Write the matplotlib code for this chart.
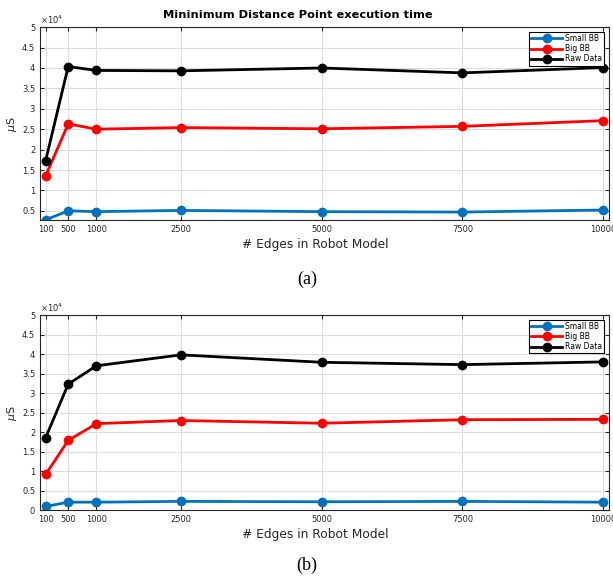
import numpy as np
import matplotlib.pyplot as plt
from matplotlib.ticker import FuncFormatter

# numero de arestas no modelo do robo
edges = [100, 500, 1000, 2500, 5000, 7500, 10000]

# (a) tempos em microssegundos
small_a = [2800, 5000, 4800, 5100, 4800, 4700, 5200]
big_a = [13600, 26300, 25000, 25400, 25100, 25700, 27100]
raw_a = [17300, 40350, 39400, 39300, 40000, 38800, 40100]

# (b)
small_b = [1000, 2100, 2100, 2300, 2200, 2300, 2100]
big_b = [9200, 17900, 22200, 23000, 22300, 23200, 23300]
raw_b = [18600, 32300, 37000, 39800, 37900, 37300, 38000]

blue = (0, 0.447, 0.741)
fig = plt.figure(figsize=(6.13, 5.78), dpi=100)

def painel(rect, small, big, raw, ymin, titulo, letra, ylet):
    ax = fig.add_axes(rect)
    ax.plot(edges, small, '-o', color=blue, lw=2, ms=6, label='Small BB')
    ax.plot(edges, big, '-o', color='red', lw=2, ms=6, label='Big BB')
    ax.plot(edges, raw, '-o', color='black', lw=2, ms=6, label='Raw Data')
    ax.set_xlim(0, 10100)
    ax.set_ylim(ymin, 50000)
    ax.set_xticks(edges)
    ax.set_yticks(np.arange(5000, 50001, 5000) if ymin > 0 else np.arange(0, 50001, 5000))
    ax.yaxis.set_major_formatter(FuncFormatter(lambda v, p: f'{v/1e4:g}'))
    ax.tick_params(direction='in', top=True, right=True, labelsize=6, colors='#262626', length=3)
    ax.grid(True, color='#dcdcdc', lw=0.8)
    for s in ax.spines.values():
        s.set_color('#262626')
        s.set_linewidth(0.8)
    ax.set_xlabel('# Edges in Robot Model', fontsize=8.8, color='#262626')
    ax.xaxis.set_label_coords(0.483, -0.09)
    ax.set_ylabel(r'$\mu$S', fontsize=8, color='#262626', labelpad=2)
    ax.text(0, 1.005, r'$\times10^4$', transform=ax.transAxes, fontsize=6, color='#262626',
            va='bottom', ha='left')
    if titulo:
        # titulo um pouco deslocado para a esquerda, como no original
        fig.text(298 / 613, rect[1] + rect[3] + 0.012, titulo, ha='center', va='bottom',
                 fontsize=8.2, fontweight='bold')
    leg = ax.legend(loc='upper right', fontsize=5.5, handlelength=4, fancybox=False,
                    framealpha=1, borderpad=0.3, labelspacing=0.15, borderaxespad=0.6,
                    handletextpad=0.4)
    leg.get_frame().set_edgecolor('black')
    leg.get_frame().set_linewidth(0.8)
    fig.text(0.501, ylet, letra, ha='center', va='center',
             fontsize=13, family='Liberation Serif')
    return ax

painel([0.0653, 0.619, 0.928, 0.334], small_a, big_a, raw_a, 2700,
       'Mininimum Distance Point execution time', '(a)', 0.517)
painel([0.0653, 0.117, 0.928, 0.338], small_b, big_b, raw_b, 0, None, '(b)', 0.0225)

fig.savefig('out.png', dpi=100)
